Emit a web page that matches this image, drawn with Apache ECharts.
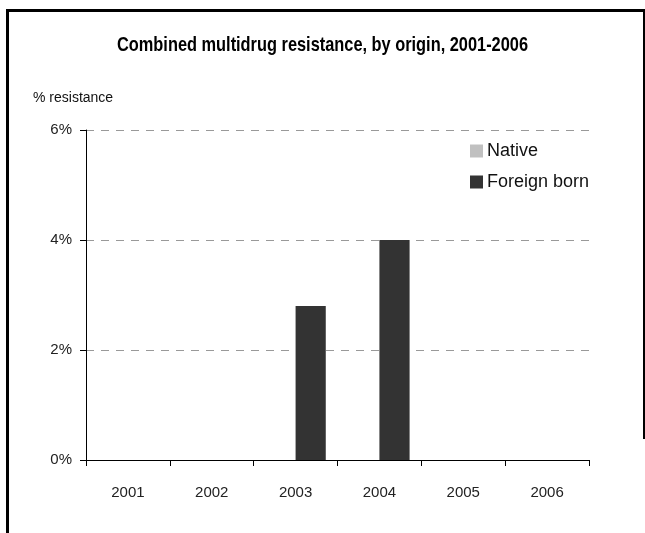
<!DOCTYPE html>
<html>
<head>
<meta charset="utf-8">
<script src="https://cdn.jsdelivr.net/npm/echarts@6/dist/echarts.min.js"></script>
<style>
html,body{margin:0;padding:0;background:#fff;}
#c{width:645px;height:533px;}
</style>
</head>
<body>
<div id="c"></div>
<script>
var categories = ['2001','2002','2003','2004','2005','2006'];
var nativeValues = [0, 0, 0, 0, 0, 0];
var foreignValues = [0, 0, 2.8, 4.0, 0, 0];
var yTicks = [0, 2, 4, 6];
var titleText = 'Combined multidrug resistance, by origin, 2001-2006';

var titleFont = 'bold 21px "Liberation Sans"';
var cv = document.createElement('canvas').getContext('2d');
cv.font = titleFont;
var tw = cv.measureText(titleText).width;
var targetW = 411;
var sx = targetW / tw;

var chart = echarts.init(document.getElementById('c'));
chart.setOption({
  animation: false,
  backgroundColor: '#fff',
  graphic: [
    {type: 'rect', shape: {x: 6, y: 9, width: 3, height: 524}, style: {fill: '#000'}},
    {type: 'rect', shape: {x: 6, y: 9, width: 639, height: 3}, style: {fill: '#000'}},
    {type: 'rect', shape: {x: 643, y: 9, width: 2, height: 430}, style: {fill: '#000'}},
    {type: 'text', x: 322.5, y: 45, scaleX: sx,
     style: {text: titleText, font: titleFont, fill: '#000', align: 'center', verticalAlign: 'middle'}},
    {type: 'text', left: 33, top: 91, style: {text: '% resistance', fontFamily: 'Liberation Sans', fontSize: 14, fill: '#111'}}
  ],
  legend: {
    orient: 'vertical',
    left: 470,
    top: 142,
    padding: 0,
    itemWidth: 13,
    itemHeight: 13,
    itemGap: 13,
    icon: 'rect',
    itemStyle: {borderWidth: 0},
    textStyle: {fontFamily: 'Liberation Sans', fontSize: 18, color: '#111', padding: [0,0,0,-1]},
    data: ['Native', 'Foreign born']
  },
  grid: {left: 86, right: 56, top: 130, bottom: 73, containLabel: false},
  xAxis: {
    type: 'category',
    data: categories,
    boundaryGap: true,
    axisLine: {lineStyle: {color: '#000', width: 1}},
    axisTick: {show: true, length: 6, lineStyle: {color: '#000'}},
    axisLabel: {margin: 25, fontFamily: 'Liberation Sans', fontSize: 15, color: '#222'}
  },
  yAxis: {
    type: 'value',
    min: 0, max: 6, interval: 2,
    axisLine: {show: true, lineStyle: {color: '#000', width: 1}},
    axisTick: {show: true, length: 6, lineStyle: {color: '#000'}},
    axisLabel: {margin: 14, fontFamily: 'Liberation Sans', fontSize: 15, color: '#222',
      formatter: function(v){ return yTicks.indexOf(v) >= 0 ? v + '%' : ''; }},
    splitLine: {show: true, lineStyle: {color: '#999', type: [8, 7], width: 1}}
  },
  series: [
    {name: 'Native', type: 'bar', data: nativeValues, barGap: '0%', barCategoryGap: '28%',
     itemStyle: {color: '#c0c0c0'}},
    {name: 'Foreign born', type: 'bar', data: foreignValues, barGap: '0%', barCategoryGap: '28%',
     itemStyle: {color: '#333333'}}
  ]
});
</script>
</body>
</html>
